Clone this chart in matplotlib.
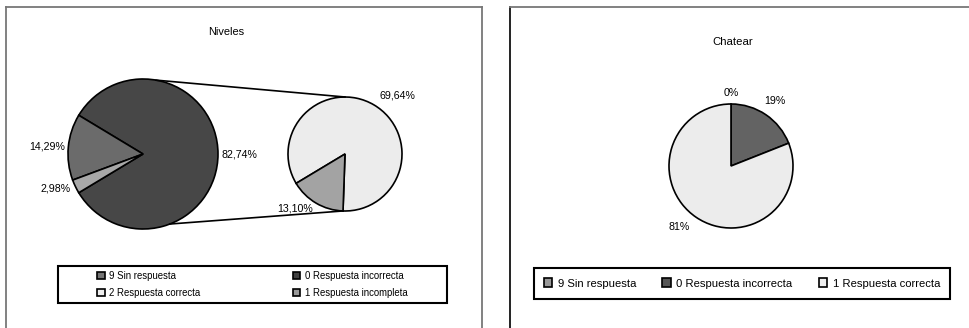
import numpy as np
import matplotlib
matplotlib.use("Agg")
import matplotlib.pyplot as plt
from matplotlib.patches import Patch, Rectangle
from matplotlib.lines import Line2D

plt.rcParams['font.family'] = ['Liberation Sans', 'DejaVu Sans']

# ---------------- data ----------------
left_title = "Niveles"
main_values = [82.74, 14.29, 2.98]
main_labels = ["82,74%", "14,29%", "2,98%"]
main_colors = ["#474747", "#6b6b6b", "#a8a8a8"]

sub_values = [69.64, 13.10]
sub_labels = ["69,64%", "13,10%"]
sub_colors = ["#ececec", "#a3a3a3"]

left_legend_labels = ["9 Sin respuesta", "2 Respuesta correcta",
                      "0 Respuesta incorrecta", "1 Respuesta incompleta"]
left_legend_colors = ["#747474", "#eeeeee", "#404040", "#9a9a9a"]

right_title = "Chatear"
chat_values = [0, 19, 81]
chat_labels = ["0%", "19%", "81%"]
chat_colors = ["#999999", "#636363", "#ececec"]
right_legend_labels = ["9 Sin respuesta", "0 Respuesta incorrecta", "1 Respuesta correcta"]
right_legend_colors = ["#999999", "#555555", "#eeeeee"]

# ---------------- figure ----------------
W, H = 970, 328
fig = plt.figure(figsize=(W / 100, H / 100), dpi=100)
ax = fig.add_axes([0, 0, 1, 1])
ax.set_xlim(0, W)
ax.set_ylim(0, H)
ax.set_aspect('equal')
ax.axis('off')

# panel borders
fig.add_artist(Line2D([6 / W, 6 / W], [0, 1 - 7 / H], color="#777777", lw=1.3))
fig.add_artist(Line2D([6 / W, 482 / W], [1 - 7 / H, 1 - 7 / H], color="#777777", lw=1.3))
fig.add_artist(Line2D([482 / W, 482 / W], [0, 1 - 7 / H], color="#777777", lw=1.3))
fig.add_artist(Line2D([510 / W, 510 / W], [0, 1 - 7 / H], color="#111111", lw=1.3))
fig.add_artist(Line2D([510 / W, 1.0], [1 - 7 / H, 1 - 7 / H], color="#777777", lw=1.3))

wp = dict(edgecolor="black", linewidth=1.2)
lab_fs = 7.7


def place_labels(wedges, texts, dists, center, radius, has=None):
    for i, (w, t, d) in enumerate(zip(wedges, texts, dists)):
        ang = np.deg2rad((w.theta1 + w.theta2) / 2)
        c, s = np.cos(ang), np.sin(ang)
        t.set_position((center[0] + radius * d * c, center[1] + radius * d * s))
        if has is not None and has[i] is not None:
            t.set_ha(has[i])
        else:
            t.set_ha('left' if c > 0.05 else ('right' if c < -0.05 else 'center'))
        t.set_va('center')


# main pie
mc, mr = (143, 174), 75
start = -main_values[0] / sum(main_values) * 360 / 2
w1, t1 = ax.pie(main_values, labels=main_labels, colors=main_colors, center=mc,
                radius=mr, startangle=start, counterclock=True, wedgeprops=wp,
                textprops=dict(fontsize=lab_fs), frame=True)
place_labels(w1, t1, [1.05, 1.05, 1.07], mc, mr)

# sub pie
sc, sr = (345, 174), 57
w2, t2 = ax.pie(sub_values, labels=sub_labels, colors=sub_colors, center=sc,
                radius=sr, startangle=268, counterclock=True, wedgeprops=wp,
                textprops=dict(fontsize=lab_fs), frame=True)
place_labels(w2, t2, [1.2, 1.1], sc, sr)

# connector lines
for a_main, a_sub in [(80, 90), (-69, -92)]:
    p1 = (mc[0] + mr * np.cos(np.deg2rad(a_main)), mc[1] + mr * np.sin(np.deg2rad(a_main)))
    p2 = (sc[0] + sr * np.cos(np.deg2rad(a_sub)), sc[1] + sr * np.sin(np.deg2rad(a_sub)))
    ax.plot([p1[0], p2[0]], [p1[1], p2[1]], color="black", lw=1.2)

ax.text(226, H - 32, left_title, ha='center', va='center', fontsize=7.9)

# right pie
rc, rr = (731, 162), 62
w3, t3 = ax.pie(chat_values, labels=chat_labels, colors=chat_colors, center=rc,
                radius=rr, startangle=90, counterclock=False, wedgeprops=wp,
                textprops=dict(fontsize=lab_fs), frame=True)
place_labels(w3, t3, [1.18, 1.26, 1.18], rc, rr, has=[None, 'center', None])
ax.text(733, H - 42, right_title, ha='center', va='center', fontsize=8.2)

ax.set_xlim(0, W)
ax.set_ylim(0, H)
ax.axis('off')

# legends (frames drawn as rectangles spanning the reference box)
box1 = (58, 25, 389, 37)
box2 = (534, 29, 416, 31)
for bx in (box1, box2):
    fig.add_artist(Rectangle((bx[0] / W, bx[1] / H), bx[2] / W, bx[3] / H,
                             transform=fig.transFigure, fill=False,
                             edgecolor="black", linewidth=1.5))

lh = [Patch(facecolor=c, edgecolor="black", linewidth=1.2) for c in left_legend_colors]
leg1 = fig.legend(lh, left_legend_labels, ncol=2, loc='center',
                  bbox_to_anchor=(box1[0] / W, box1[1] / H, box1[2] / W, box1[3] / H),
                  fontsize=6.9, frameon=False,
                  handlelength=0.8, handleheight=0.8, handletextpad=0.5,
                  columnspacing=9.6, labelspacing=0.75, borderpad=0.3)

rh = [Patch(facecolor=c, edgecolor="black", linewidth=1.2) for c in right_legend_colors]
leg2 = fig.legend(rh, right_legend_labels, ncol=3, loc='center',
                  bbox_to_anchor=(box2[0] / W, box2[1] / H, box2[2] / W, box2[3] / H),
                  fontsize=8.1, frameon=False,
                  handlelength=0.75, handleheight=0.75, handletextpad=0.5,
                  columnspacing=2.35, borderpad=0.4)

fig.savefig("out.png", dpi=100)
